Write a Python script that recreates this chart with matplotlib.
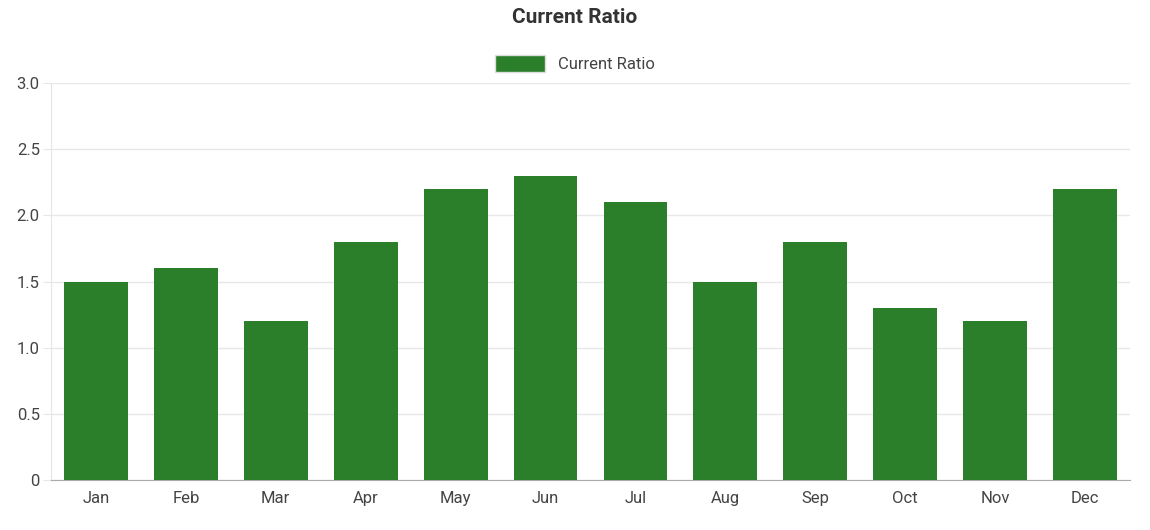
import matplotlib
matplotlib.use("Agg")
import matplotlib.pyplot as plt
from matplotlib.patches import Patch

months = ["Jan","Feb","Mar","Apr","May","Jun","Jul","Aug","Sep","Oct","Nov","Dec"]
current_ratio = [1.5,1.6,1.2,1.8,2.2,2.3,2.1,1.5,1.8,1.3,1.2,2.2]
yticks = [0,0.5,1.0,1.5,2.0,2.5,3.0]
ytick_labels = ["0","0.5","1.0","1.5","2.0","2.5","3.0"]

plt.rcParams["font.family"] = "Roboto"
color = "#2b7f2b"
fig = plt.figure(figsize=(11.5,5.3), dpi=100)
ax = fig.add_axes([0.0443,0.0943,0.9383,0.7491])
x = list(range(len(months)))
ax.bar(x, current_ratio, width=0.71, color=color, zorder=3)
ax.set_xlim(-0.5, len(months)-0.5)
ax.set_ylim(0,3.0)
ax.set_yticks(yticks)
ax.set_yticklabels(ytick_labels)
ax.set_xticks(x)
ax.set_xticklabels(months)
ax.tick_params(axis="y", length=6, color="#e6e6e6", labelsize=12, labelcolor="#444444", pad=2)
ax.tick_params(axis="x", length=0, labelsize=12, labelcolor="#444444", pad=8)
ax.grid(axis="y", color="#e8e8e8", lw=1, zorder=0)
for s in ["top","right"]:
    ax.spines[s].set_visible(False)
ax.spines["left"].set_color("#e6e6e6")
ax.spines["bottom"].set_color("#aaaaaa")
fig.suptitle("Current Ratio", y=0.985, fontsize=15, fontweight="bold", color="#333333")
fig.legend(handles=[Patch(facecolor=color, edgecolor="#dddddd", label="Current Ratio")],
           loc="center", bbox_to_anchor=(0.5,0.88), frameon=False, fontsize=12,
           handlelength=3.0, handleheight=1.2, labelcolor="#444444")
fig.savefig("out.png", dpi=100)
